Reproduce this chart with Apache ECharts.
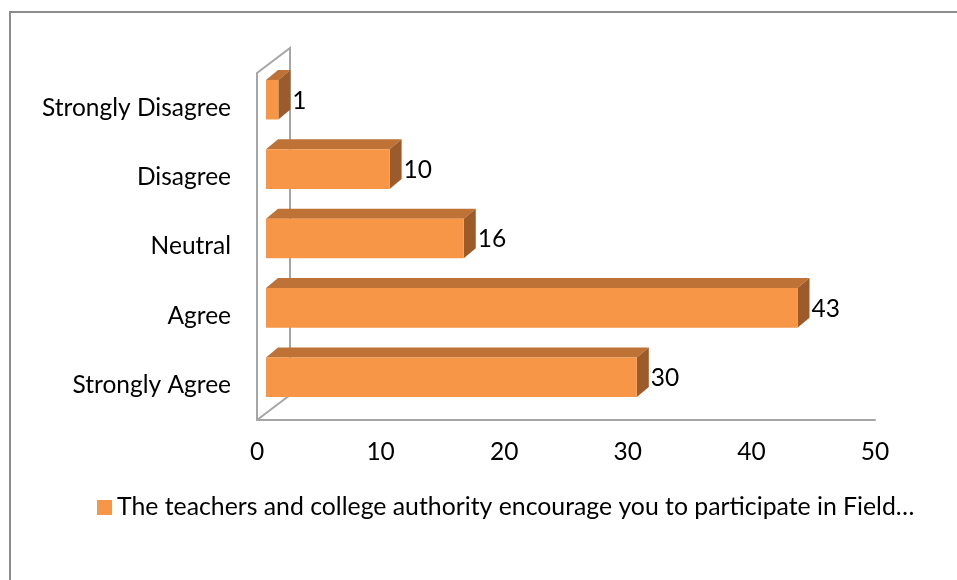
<!DOCTYPE html>
<html>
<head>
<meta charset="utf-8">
<script src="https://cdn.jsdelivr.net/npm/echarts@6/dist/echarts.min.js"></script>
<style>html,body{margin:0;padding:0;background:#fff}#c{width:957px;height:580px}</style>
</head>
<body>
<div id="c"></div>
<script>
const categories = ['Strongly Agree', 'Agree', 'Neutral', 'Disagree', 'Strongly Disagree'];
const values = [30, 43, 16, 10, 1];
const xTicks = [0, 10, 20, 30, 40, 50];
const seriesName = 'The teachers and college authority encourage you to participate in Field\u2026';

const FONT = 'Lato';
const FS = 24.5;
const chart = echarts.init(document.getElementById('c'));

const FRONT = '#F79646', TOP = '#BE7235', SIDE = '#9C5B2A';
const SHIFT_X = 9, SHIFT_Y = -8, DX = 12, DY = -10;

function renderItem(params, api) {
  const cat = api.value(0), v = api.value(1);
  const s = api.coord([0, cat]);
  const e = api.coord([v, cat]);
  const band = api.size([0, 1])[1];
  const h = band * 0.57;
  const x = s[0] + SHIFT_X, y = s[1] + SHIFT_Y - h / 2, w = e[0] - s[0];
  return {
    type: 'group',
    children: [
      {type: 'polygon', shape: {points: [[x, y], [x + DX, y + DY], [x + w + DX, y + DY], [x + w, y]]}, style: {fill: TOP}},
      {type: 'polygon', shape: {points: [[x + w, y], [x + w + DX, y + DY], [x + w + DX, y + h + DY], [x + w, y + h]]}, style: {fill: SIDE}},
      {type: 'rect', shape: {x: x, y: y, width: w, height: h}, style: {fill: FRONT}},
      {type: 'text', x: x + w + DX + 2, y: y + h / 2 + 1, style: {text: String(v), fill: '#000', font: FS + 'px ' + FONT, textAlign: 'left', textVerticalAlign: 'middle'}}
    ]
  };
}

chart.setOption({
  animation: false,
  grid: {left: 257, right: 82, top: 73, bottom: 160},
  legend: {
    data: [{name: seriesName, icon: 'rect', itemStyle: {color: FRONT}}],
    left: 92, top: 490, itemWidth: 15, itemHeight: 15,
    textStyle: {fontFamily: FONT, fontSize: 24.8, color: '#000'}
  },
  xAxis: {
    type: 'value', min: 0, max: 50, interval: 10,
    axisLine: {show: true, lineStyle: {color: '#a6a6a6', width: 2}},
    axisTick: {show: false}, splitLine: {show: false},
    axisLabel: {margin: 20, fontFamily: FONT, fontSize: FS, color: '#000',
      formatter: v => xTicks.includes(v) ? String(v) : ''}
  },
  yAxis: {
    type: 'category', data: categories,
    axisLine: {show: true, lineStyle: {color: '#a6a6a6', width: 2}},
    axisTick: {show: false},
    axisLabel: {margin: 26, fontFamily: FONT, fontSize: FS, color: '#000', padding: [6, 0, 0, 0]}
  },
  series: [{
    name: seriesName, type: 'custom', renderItem: renderItem,
    itemStyle: {color: FRONT},
    data: categories.map((c, i) => [i, values[i]]),
    encode: {x: 1, y: 0}
  }]
});

// back walls, positioned from the axes
const x0 = chart.convertToPixel({xAxisIndex: 0}, 0);
const yA = chart.convertToPixel({yAxisIndex: 0}, 0);
const yB = chart.convertToPixel({yAxisIndex: 0}, categories.length - 1);
const band = (yA - yB) / (categories.length - 1);
const yBot = yA + band / 2, yTop = yB - band / 2;
const WX = 33, WY = -25;
const ls = {stroke: '#a6a6a6', lineWidth: 2};
chart.setOption({
  graphic: [
    {type: 'rect', shape: {x: 10, y: 12, width: 1000, height: 1000}, style: {fill: 'none', stroke: '#8c8c8c', lineWidth: 2}, z: 0},
    {type: 'polyline', shape: {points: [[x0, yBot], [x0 + WX, yBot + WY], [x0 + WX, yTop + WY], [x0, yTop]]}, style: Object.assign({fill: 'none'}, ls), z: 0}
  ]
});
</script>
</body>
</html>
